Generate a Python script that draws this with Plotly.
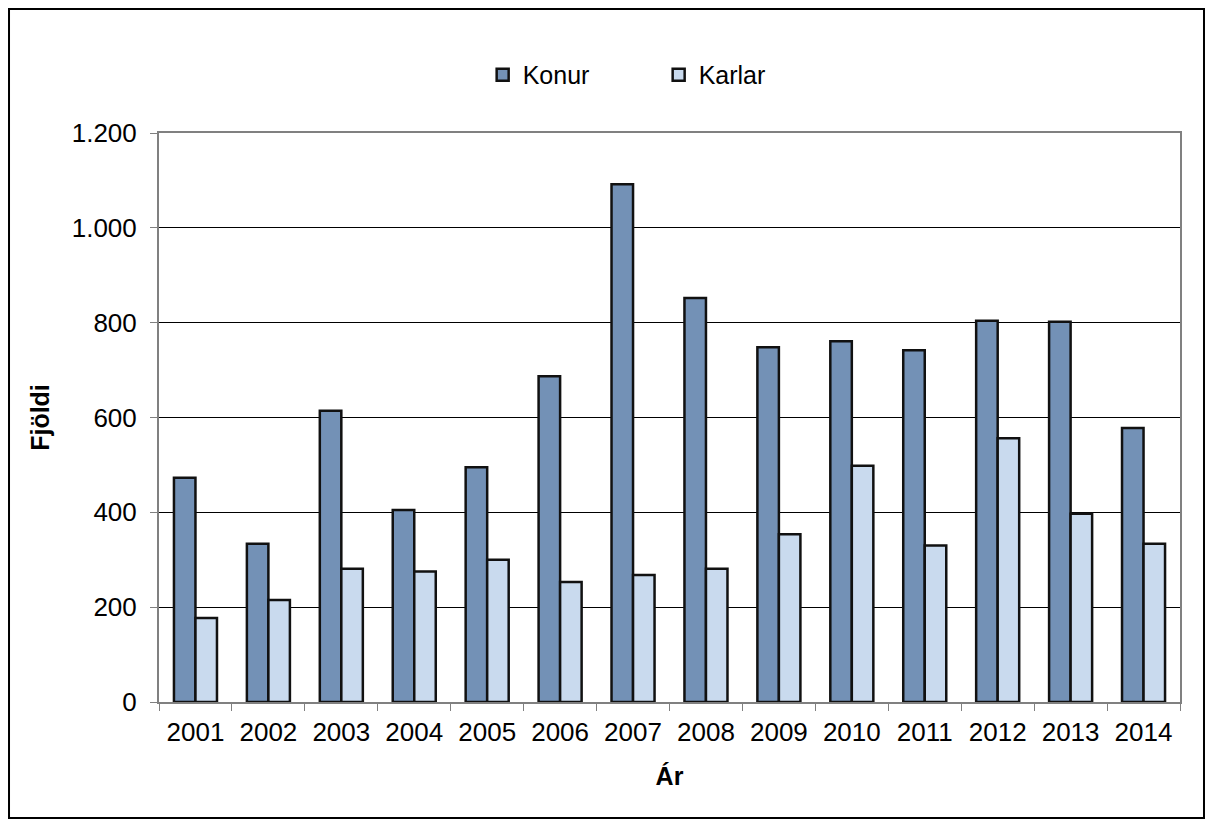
import plotly.graph_objects as go

years = ["2001", "2002", "2003", "2004", "2005", "2006", "2007",
         "2008", "2009", "2010", "2011", "2012", "2013", "2014"]
konur = [473, 334, 614, 405, 495, 687, 1092, 852, 748, 761, 742, 804, 802, 578]
karlar = [177, 215, 281, 275, 300, 253, 268, 281, 354, 498, 330, 556, 397, 334]

FONT = "Liberation Sans, Arial, sans-serif"

fig = go.Figure()
fig.add_trace(go.Bar(
    name="Konur", x=years, y=konur,
    marker=dict(color="#7391B6", line=dict(color="#111111", width=2.5)),
))
fig.add_trace(go.Bar(
    name="Karlar", x=years, y=karlar,
    marker=dict(color="#C9DAEE", line=dict(color="#111111", width=2.5)),
))

fig.update_layout(
    width=1197, height=811,
    margin=dict(l=151, r=25, t=125, b=117),
    paper_bgcolor="white", plot_bgcolor="white",
    barmode="group", bargap=0.41, bargroupgap=0,
    separators=",.",
    font=dict(family=FONT, size=25, color="black"),
    legend=dict(
        orientation="h", x=0.317, xanchor="left", y=1.102, yanchor="middle",
        font=dict(family=FONT, size=25), entrywidth=131, entrywidthmode="pixels",
        itemwidth=30,
    ),
    xaxis=dict(
        title=dict(text="<b>Ár</b>", font=dict(size=25), standoff=21),
        tickfont=dict(size=26),
        showline=True, linecolor="#808080", linewidth=2, mirror=True,
        ticks="outside", ticklen=7, tickcolor="#808080", tickson="boundaries",
        ticklabelstandoff=6,
        showgrid=False,
    ),
    yaxis=dict(
        title=dict(text="<b>Fjöldi</b>", font=dict(size=25), standoff=15),
        tickfont=dict(size=26),
        range=[0, 1200], dtick=200, tickformat=",d",
        showline=True, linecolor="#808080", linewidth=2, mirror=True,
        ticks="outside", ticklen=7, tickcolor="#808080",
        ticklabelstandoff=8,
        showgrid=True, gridcolor="#000000", gridwidth=1,
        zeroline=False, layer="above traces",
    ),
    shapes=[dict(
        type="rect", xref="paper", yref="paper",
        x0=-0.1469, x1=1.0235, y0=-0.2039, y1=1.2179,
        line=dict(color="black", width=2), fillcolor="rgba(0,0,0,0)",
    )],
)

fig.write_html("out.html")
